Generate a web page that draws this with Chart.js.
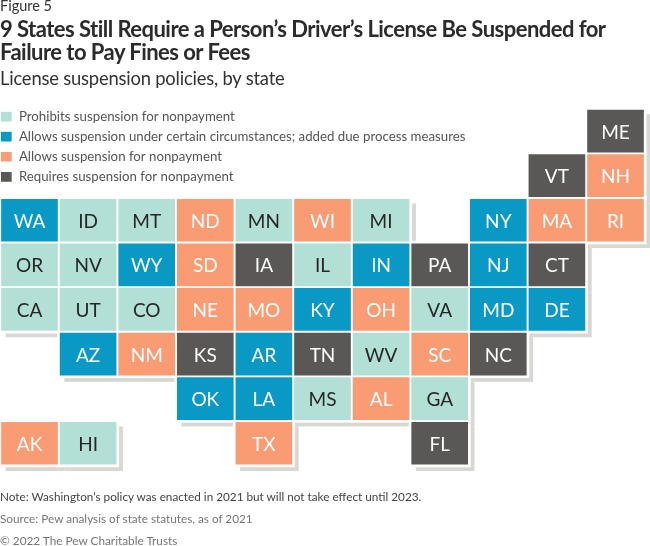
<!DOCTYPE html>
<html>
<head>
<meta charset="utf-8">
<script src="https://cdn.jsdelivr.net/npm/chart.js@4"></script>
<style>
    body { margin: 0; background: #fff; font-family: Lato, sans-serif; }
    #wrap { position: relative; width: 650px; height: 546px; overflow: hidden; }
    #wrap div { position: absolute; left: 0; white-space: nowrap; }
    canvas { position: absolute; left: 0; top: 0; }
    #fig { top: -3px; font-size: 14.5px; line-height: 18px; color: #333; }
    #title { top: 18px; font-size: 22px; line-height: 22.5px; font-weight: 700; color: #2b2b2b; letter-spacing: -0.53px; }
    #sub { top: 67px; font-size: 18.4px; line-height: 23px; color: #333; letter-spacing: -0.2px; }
    #note { top: 489px; font-size: 11.75px; line-height: 16px; color: #444; }
    #source { top: 511px; font-size: 11.75px; line-height: 16px; color: #777; }
    #copy { top: 533px; font-size: 11.8px; line-height: 16px; color: #777; }
</style>
</head>
<body>
<div id="wrap">
    <canvas id="tileChart" width="650" height="546"></canvas>
    <div id="fig">Figure 5</div>
    <div id="title">9 States Still Require a Person’s Driver’s License Be Suspended for<br>Failure to Pay Fines or Fees</div>
    <div id="sub">License suspension policies, by state</div>
    <div id="note">Note: Washington’s policy was enacted in 2021 but will not take effect until 2023.</div>
    <div id="source">Source: Pew analysis of state statutes, as of 2021</div>
    <div id="copy">© 2022 The Pew Charitable Trusts</div>
</div>
<script>
// Tile grid, one list per row, '' where there is no state
const tileRows = [
    ['', '', '', '', '', '', '', '', '', '', 'ME'],
    ['', '', '', '', '', '', '', '', '', 'VT', 'NH'],
    ['WA', 'ID', 'MT', 'ND', 'MN', 'WI', 'MI', '', 'NY', 'MA', 'RI'],
    ['OR', 'NV', 'WY', 'SD', 'IA', 'IL', 'IN', 'PA', 'NJ', 'CT', ''],
    ['CA', 'UT', 'CO', 'NE', 'MO', 'KY', 'OH', 'VA', 'MD', 'DE', ''],
    ['', 'AZ', 'NM', 'KS', 'AR', 'TN', 'WV', 'SC', 'NC', '', ''],
    ['', '', '', 'OK', 'LA', 'MS', 'AL', 'GA', '', '', ''],
    ['AK', 'HI', '', '', 'TX', '', '', 'FL', '', '', '']
];

// States by policy
const prohibits = ['ID', 'MT', 'MN', 'MI', 'OR', 'NV', 'IL', 'CA', 'UT', 'CO', 'VA', 'WV', 'MS', 'GA', 'HI'];
const allowsWithProcess = ['WA', 'NY', 'WY', 'IN', 'NJ', 'KY', 'MD', 'DE', 'AZ', 'AR', 'OK', 'LA'];
const allows = ['ND', 'WI', 'MA', 'RI', 'NH', 'SD', 'NE', 'MO', 'OH', 'NM', 'SC', 'AL', 'AK', 'TX'];
const requires = ['ME', 'VT', 'IA', 'PA', 'CT', 'KS', 'TN', 'NC', 'FL'];

const policyLabels = [
    'Prohibits suspension for nonpayment',
    'Allows suspension under certain circumstances; added due process measures',
    'Allows suspension for nonpayment',
    'Requires suspension for nonpayment'
];
const policyStates = [prohibits, allowsWithProcess, allows, requires];
const policyColors = ['#b2e0d6', '#0a98c5', '#f99b73', '#595856'];
const labelColors = ['#262626', '#fff', '#fff', '#fff'];

const columns = tileRows[0].map((_, i) => i);

function findTile(state) {
    const row = tileRows.findIndex(r => r.includes(state));
    return { x: tileRows[row].indexOf(state), y: [row, row + 1], state: state };
}

// chartArea legends keep a 0,0 origin after layout, so move it beside the map
const legendPlacement = {
    id: 'legendPlacement',
    afterLayout(chart) {
        const legend = chart.legend;
        const height = legend.height;
        legend.left = -6.5;
        legend.top = 103.2;
        legend.bottom = 103.2 + height;
    }
};

// Offset grey shadow behind the whole map, with a white gap around the tiles
const tileShadow = {
    id: 'tileShadow',
    beforeDatasetsDraw(chart) {
        const ctx = chart.ctx;
        const bars = chart.data.datasets.flatMap((_, i) => chart.getDatasetMeta(i).data);
        ctx.save();
        ctx.fillStyle = '#d9d7d3';
        bars.forEach(bar => {
            ctx.fillRect(bar.x - bar.width / 2 + 5.5, Math.min(bar.y, bar.base) + 5.5, bar.width, Math.abs(bar.height));
        });
        ctx.fillStyle = '#fff';
        bars.forEach(bar => {
            ctx.fillRect(bar.x - bar.width / 2 - 1.7, Math.min(bar.y, bar.base) - 1.7, bar.width + 3.4, Math.abs(bar.height) + 3.4);
        });
        ctx.restore();
    }
};

const tileLabels = {
    id: 'tileLabels',
    afterDatasetsDraw(chart) {
        const ctx = chart.ctx;
        ctx.save();
        ctx.font = '19px Lato';
        ctx.textAlign = 'center';
        ctx.textBaseline = 'middle';
        chart.data.datasets.forEach((dataset, i) => {
            ctx.fillStyle = labelColors[i];
            chart.getDatasetMeta(i).data.forEach((bar, j) => {
                ctx.fillText(dataset.data[j].state, bar.x, (bar.y + bar.base) / 2 + 1.5);
            });
        });
        ctx.restore();
    }
};

new Chart(document.getElementById('tileChart'), {
    type: 'bar',
    data: {
        labels: columns,
        datasets: policyLabels.map((label, i) => ({
            label: label,
            data: policyStates[i].map(findTile),
            backgroundColor: policyColors[i],
            borderColor: '#fff',
            borderWidth: 1.3,
            borderSkipped: false,
            grouped: false,
            barPercentage: 1,
            categoryPercentage: 1
        }))
    },
    options: {
        responsive: false,
        animation: false,
        layout: { padding: { left: 0.2, right: 5.2, top: 108.75, bottom: 80.45 } },
        scales: {
            x: { display: false },
            y: { display: false, reverse: true, min: 0, max: tileRows.length }
        },
        plugins: {
            tooltip: { enabled: false },
            legend: {
                position: 'chartArea',
                align: 'start',
                labels: {
                    boxWidth: 12,
                    boxHeight: 11,
                    padding: 6.8,
                    color: '#555',
                    font: { family: 'Lato', size: 13.25 }
                }
            }
        }
    },
    plugins: [legendPlacement, tileShadow, tileLabels]
});
</script>
</body>
</html>
